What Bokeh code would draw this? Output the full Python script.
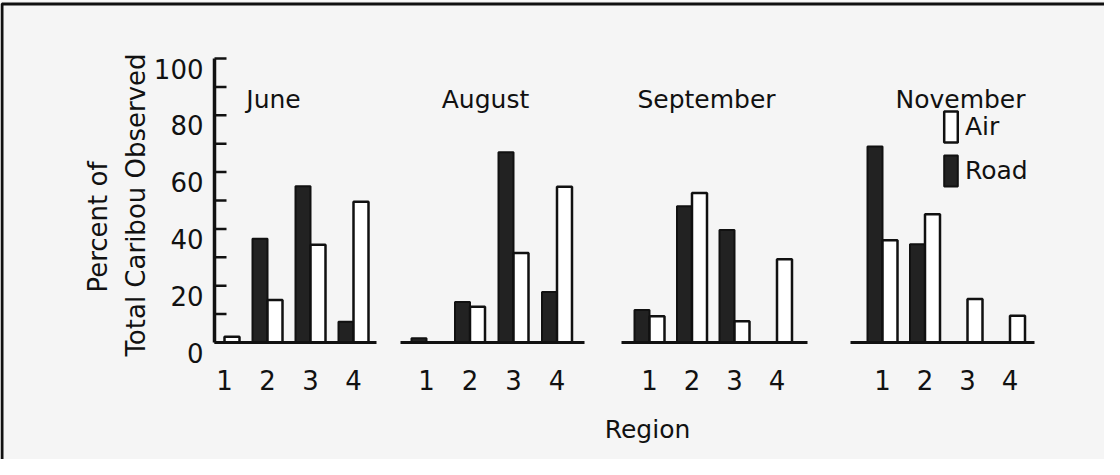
import math
from bokeh.plotting import figure
from bokeh.models import Range1d, Legend, LegendItem
from bokeh.core.properties import value
from bokeh.embed import file_html
from bokeh.resources import INLINE

# ---------------- data ----------------
months = ["June", "August", "September", "November"]
regions = ["1", "2", "3", "4"]
road_june = [0, 36.5, 55, 7.3]
air_june = [2, 15, 34.4, 49.6]
road_august = [1.5, 14.3, 67, 17.8]
air_august = [0, 12.6, 31.5, 54.8]
road_september = [11.4, 48, 39.6, 0]
air_september = [9.2, 52.6, 7.5, 29.3]
road_november = [69, 34.6, 0, 0]
air_november = [36, 45.2, 15.3, 9.4]
y_major = [0, 20, 40, 60, 80, 100]
y_minor = [10, 30, 50, 70, 90]
y_title = ["Percent of", "Total Caribou Observed"]
x_title = "Region"
series_labels = ["Air", "Road"]

road_all = [road_june, road_august, road_september, road_november]
air_all = [air_june, air_august, air_september, air_november]

# ---------------- layout ----------------
W, H = 1104, 459
PAGE_TOP, PAGE_BOTTOM = 8, 8 + H
ZERO_PX, PX_PER_UNIT = 350.0, 2.84


def py(px):
    """page pixel row -> percent units"""
    return (ZERO_PX - px) / PX_PER_UNIT


GROUP_START = [232, 434, 657, 890]
GROUP_STEP = [43, 43.5, 42.5, 42.5]
BAR_W = 15
BASE_L = [222, 408, 629, 858]
BASE_R = [384, 592, 815, 1042]
TITLE_X = [281, 493, 714, 968]
AXIS_X = 222
FONT = value("DejaVu Sans")
INK = "#111111"
BG = "#f5f5f5"

p = figure(width=W, height=H, x_range=Range1d(8, 8 + W),
           y_range=Range1d(py(PAGE_BOTTOM), py(PAGE_TOP)),
           output_backend="svg", toolbar_location=None,
           x_axis_type=None, y_axis_type=None, min_border=0)
p.outline_line_color = None
p.background_fill_color = BG
p.border_fill_color = BG

# bars
rx, rt, ax, at = [], [], [], []
lab_x, lab_t = [], []
for m in range(len(months)):
    for i, reg in enumerate(regions):
        cx = GROUP_START[m] + i * GROUP_STEP[m]
        lab_x.append(cx)
        lab_t.append(reg)
        if road_all[m][i] > 0:
            rx.append(cx - BAR_W / 2)
            rt.append(road_all[m][i])
        if air_all[m][i] > 0:
            ax.append(cx + BAR_W / 2)
            at.append(air_all[m][i])

road_r = p.vbar(x=rx, top=rt, bottom=0, width=BAR_W, fill_color="#222222",
                line_color=INK, line_width=2)
air_r = p.vbar(x=ax, top=at, bottom=0, width=BAR_W, fill_color="white",
               line_color=INK, line_width=2.5)

# baselines
p.segment(x0=BASE_L, y0=[0] * 4, x1=BASE_R, y1=[0] * 4, line_color=INK,
          line_width=3)

# y axis
p.segment(x0=[AXIS_X], y0=[0], x1=[AXIS_X], y1=[100], line_color=INK,
          line_width=3.5)
ticks = y_major + y_minor
p.segment(x0=[AXIS_X] * len(ticks), y0=ticks, x1=[AXIS_X + 12] * len(ticks),
          y1=ticks, line_color=INK, line_width=2.5)
p.text(x=[211] * len(y_major), y=y_major, text=[str(v) for v in y_major],
       text_align="right", text_baseline="alphabetic", y_offset=10,
       text_font=FONT, text_font_size="26px", text_color=INK)

# x tick labels
p.text(x=lab_x, y=[0] * len(lab_x), text=lab_t, text_align="center",
       text_baseline="alphabetic", y_offset=37, text_font=FONT,
       text_font_size="26px", text_color=INK)

# month titles
p.text(x=TITLE_X, y=[py(106.5)] * 4, text=months, text_align="center",
       text_baseline="alphabetic", text_font=FONT, text_font_size="25px",
       text_color=INK)

# axis titles
p.text(x=[105, 143], y=[py(234.5), py(212.5)], text=y_title,
       angle=math.pi / 2, text_align="center", text_baseline="alphabetic",
       text_font=FONT, text_font_size="26px", text_color=INK)
p.text(x=[655], y=[py(437)], text=[x_title], text_align="center",
       text_baseline="alphabetic", text_font=FONT, text_font_size="25px",
       text_color=INK)

# frame border (left & top)
p.line(x=[9.5, 9.5, 8 + W], y=[py(PAGE_BOTTOM + 5), py(11.5), py(11.5)],
       line_color=INK, line_width=3)

legend = Legend(items=[LegendItem(label=series_labels[0], renderers=[air_r]),
                       LegendItem(label=series_labels[1], renderers=[road_r])],
                location=(942, 269), glyph_width=17, glyph_height=39,
                spacing=5, padding=0, margin=0, label_standoff=6,
                background_fill_alpha=0, border_line_alpha=0,
                label_text_font="DejaVu Sans", label_text_font_size="25px",
                label_text_color=INK)
p.add_layout(legend)

open("out.html", "w").write(file_html(p, INLINE))
